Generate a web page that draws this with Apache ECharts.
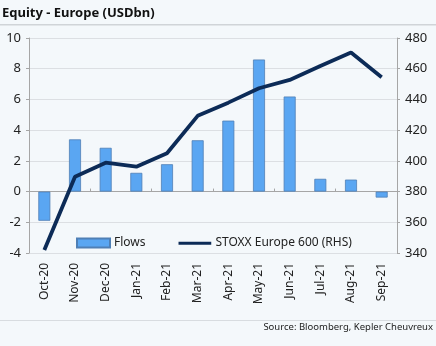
<!DOCTYPE html>
<html>
<head>
<meta charset="utf-8">
<script src="https://cdn.jsdelivr.net/npm/echarts@6/dist/echarts.min.js"></script>
<style>
  html, body { margin: 0; padding: 0; background: #f4f8fb; }
  #chart { width: 436px; height: 346px; }
</style>
</head>
<body>
<div id="chart"></div>
<script>
// Monthly equity flows into Europe funds and the STOXX Europe 600 level
const months = ['Oct-20', 'Nov-20', 'Dec-20', 'Jan-21', 'Feb-21', 'Mar-21',
                'Apr-21', 'May-21', 'Jun-21', 'Jul-21', 'Aug-21', 'Sep-21'];
const flows = [-1.9, 3.4, 2.85, 1.22, 1.78, 3.34, 4.62, 8.6, 6.19, 0.83, 0.78, -0.39];
const stoxx = [342, 389.7, 398.8, 396.2, 405, 429.3, 437.9, 447.3, 452.7, 461.8, 470.5, 454.5];
const leftTicks = { min: -4, max: 10, step: 2 };
const rightTicks = { min: 340, max: 480, step: 20 };

const font = "'Noto Sans', 'Open Sans', sans-serif";
// Thick horizontal bar used as the legend key of the index line
const lineKey = 'path://M0,0 L0,0 M0,4 L40,4 L40,7.5 L0,7.5 Z M0,11 L0,11';
const chart = echarts.init(document.getElementById('chart'));

chart.setOption({
  backgroundColor: '#f4f8fb',
  animation: false,
  textStyle: { fontFamily: font },
  grid: { left: 29, right: 39, top: 38, bottom: 93, containLabel: false },
  legend: {
    left: 71, top: 232,
    itemWidth: 33, itemHeight: 9, itemGap: 33,
    textStyle: { fontFamily: font, fontSize: 12, color: '#222', padding: [0, 0, 0, -1] },
    data: [
      { name: 'Flows', icon: 'rect' },
      { name: 'STOXX Europe 600 (RHS)', icon: lineKey }
    ]
  },
  xAxis: [
    {
      type: 'category', data: months, position: 'bottom',
      axisLine: { onZero: false, show: false },
      axisTick: { show: false },
      axisLabel: { rotate: 90, fontSize: 12, color: '#222', margin: 10, fontFamily: font }
    },
    {
      type: 'category', data: months,
      axisLine: { onZero: true, lineStyle: { color: '#a6a6a6', width: 1 } },
      axisTick: { show: true, length: 3, lineStyle: { color: '#a6a6a6' } },
      axisLabel: { show: false }
    }
  ],
  yAxis: [
    {
      type: 'value', min: leftTicks.min, max: leftTicks.max, interval: leftTicks.step,
      axisLine: { show: true, lineStyle: { color: '#a6a6a6' } },
      axisTick: { show: true, length: 3, lineStyle: { color: '#a6a6a6' } },
      axisLabel: { fontSize: 13, color: '#222', margin: 8, fontFamily: font },
      splitLine: { lineStyle: { color: '#dcdfe3' } }
    },
    {
      type: 'value', min: rightTicks.min, max: rightTicks.max, interval: rightTicks.step,
      position: 'right',
      axisLine: { show: true, lineStyle: { color: '#a6a6a6' } },
      axisTick: { show: true, length: 3, lineStyle: { color: '#a6a6a6' } },
      axisLabel: { fontSize: 13, color: '#222', margin: 8, fontFamily: font },
      splitLine: { show: false }
    }
  ],
  series: [
    {
      name: 'Flows', type: 'bar', data: flows, barWidth: 12,
      itemStyle: { color: '#5aa6f2', borderColor: '#4f7fb5', borderWidth: 0.8 }
    },
    {
      name: 'STOXX Europe 600 (RHS)', type: 'line', yAxisIndex: 1, data: stoxx,
      symbol: 'none', lineStyle: { color: '#0c2b57', width: 3.8 },
      itemStyle: { color: '#0c2b57' }
    }
  ],
  graphic: [
    {
      type: 'text', left: 2, top: 7,
      style: { text: 'Equity - Europe (USDbn)', font: "bold 13px 'Noto Sans', sans-serif", fill: '#111' }
    },
    {
      type: 'rect', left: 0, top: 24, shape: { width: 436, height: 1.5 },
      style: { fill: '#d0d4d8' }
    },
    {
      type: 'rect', left: 0, top: 320, shape: { width: 436, height: 1 },
      style: { fill: '#d8dce0' }
    },
    {
      type: 'text', right: 3, top: 322,
      style: { text: 'Source: Bloomberg, Kepler Cheuvreux', font: "9.5px 'Noto Sans', sans-serif", fill: '#222' }
    }
  ]
});
</script>
</body>
</html>
